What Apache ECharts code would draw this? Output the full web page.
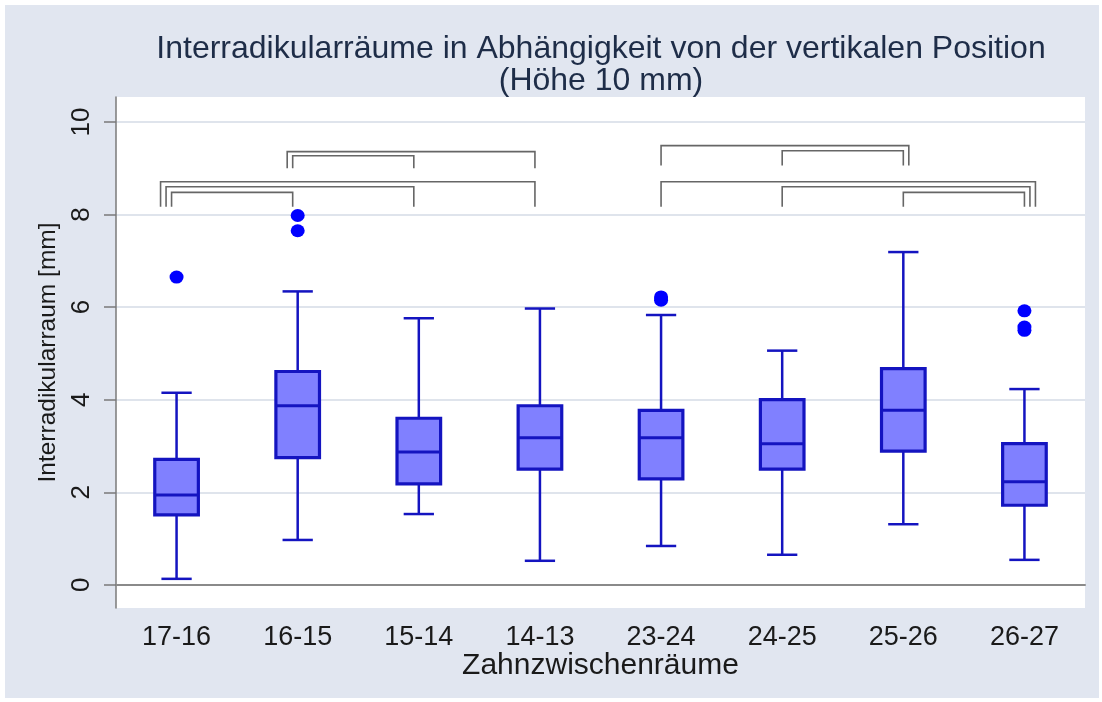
<!DOCTYPE html>
<html><head><meta charset="utf-8">
<script src="https://cdn.jsdelivr.net/npm/echarts@6/dist/echarts.min.js"></script>
<style>html,body{margin:0;padding:0;background:#fff}#c{width:1102px;height:702px}</style>
</head><body><div id="c"></div>
<script>
const categories = ['17-16','16-15','15-14','14-13','23-24','24-25','25-26','26-27'];
const lowWhisker  = [0.13, 0.97, 1.53, 0.52, 0.84, 0.65, 1.31, 0.54];
const q1          = [1.51, 2.75, 2.18, 2.50, 2.29, 2.50, 2.89, 1.72];
const median      = [1.94, 3.87, 2.87, 3.18, 3.18, 3.05, 3.77, 2.23];
const q3          = [2.71, 4.61, 3.60, 3.87, 3.77, 4.00, 4.67, 3.05];
const highWhisker = [4.15, 6.34, 5.76, 5.97, 5.83, 5.06, 7.19, 4.23];
const outlierCat  = [0, 1, 1, 4, 4, 7, 7, 7];
const outlierVal  = [6.65, 7.98, 7.65, 6.22, 6.15, 5.92, 5.57, 5.50];
const yTicks = [0, 2, 4, 6, 8, 10];
const titleLines = ['Interradikularräume in Abhängigkeit von der vertikalen Position', '(Höhe 10 mm)'];
// significance brackets: [from category, to category, top value, leg end value]
const brackets = [
  [0, 3, 8.71, 8.17], [0, 2, 8.60, 8.17], [0, 1, 8.48, 8.17],
  [1, 3, 9.36, 9.00], [1, 2, 9.27, 9.00],
  [4, 6, 9.49, 9.06], [5, 6, 9.38, 9.06],
  [4, 7, 8.71, 8.17], [5, 7, 8.60, 8.17], [6, 7, 8.48, 8.17]
];

const LINE = '#1414c0';
const FONT = '"Liberation Sans", Arial, sans-serif';

const boxData = categories.map((c, i) => [i, lowWhisker[i], q1[i], median[i], q3[i], highWhisker[i]]);
const outlierData = outlierCat.map((c, i) => [c, outlierVal[i]]);

// leg spreading for nested brackets sharing an endpoint
const SPREAD = 5.5;
const legOffsets = brackets.map((b) => {
  const span = Math.abs(b[1] - b[0]);
  const sameStart = brackets.filter(o => o[0] === b[0] && o[3] === b[3] && Math.abs(o[1] - o[0]) < span).length;
  const sameEnd = brackets.filter(o => o[1] === b[1] && o[3] === b[3] && Math.abs(o[1] - o[0]) < span).length;
  const base = b[0] < 4 ? -5 : 0;
  return [base - sameStart * SPREAD, (b[1] < 4 ? -5 : 0) + sameEnd * SPREAD];
});
const bracketData = brackets.map((b, i) => [b[0], b[1], b[2], b[3], i]);

const chart = echarts.init(document.getElementById('c'), null, {renderer: 'canvas'});
chart.setOption({
  backgroundColor: '#ffffff',
  animation: false,
  graphic: [{
    type: 'rect', z: -10, silent: true,
    shape: {x: 5, y: 5, width: 1094, height: 693},
    style: {fill: '#e1e6f0'}
  }, {
    type: 'text', z: 10, silent: true, x: 601, y: 33,
    style: {text: titleLines.join('\n'), textAlign: 'center', textVerticalAlign: 'top',
      font: 'normal 32px ' + FONT, lineHeight: 32, fill: '#1e2d48'}
  }],
  grid: {left: 116, right: 17, top: 97, bottom: 94, show: true, backgroundColor: '#ffffff', borderWidth: 0},
  xAxis: {
    type: 'category', data: categories,
    axisTick: {show: false},
    axisLine: {show: true, lineStyle: {color: '#8a8a8a', width: 2}},
    axisLabel: {fontFamily: FONT, fontSize: 27, color: '#1a1a1a', margin: 16},
    name: 'Zahnzwischenräume', nameLocation: 'middle', nameGap: 43, nameMoveOverlap: false,
    nameTextStyle: {fontFamily: FONT, fontSize: 30, color: '#1a1a1a'},
    splitLine: {show: false}
  },
  yAxis: {
    type: 'value', min: -0.5, max: 10.54,
    axisLine: {show: true, lineStyle: {color: '#7a7a7a', width: 1.5}},
    axisTick: {show: true, customValues: yTicks, length: 12, lineStyle: {color: '#7a7a7a', width: 1.5}},
    axisLabel: {customValues: yTicks, rotate: 90, fontFamily: FONT, fontSize: 26, color: '#1a1a1a', margin: 21},
    splitLine: {show: true, lineStyle: {color: '#dfe4ec', width: 2}},
    name: 'Interradikularraum [mm]', nameLocation: 'middle', nameRotate: 90, nameGap: 51,
    nameTextStyle: {fontFamily: FONT, fontSize: 24.5, color: '#1a1a1a'}
  },
  series: [
    {
      type: 'custom', name: 'box', data: boxData, z: 3,
      encode: {x: 0, y: [1, 2, 3, 4, 5]},
      renderItem: function (params, api) {
        const idx = api.value(0);
        const x = api.coord([idx, 0])[0];
        const band = api.size([1, 0])[0];
        const bw = band * 0.36, cw = band * 0.25;
        const yl = api.coord([idx, api.value(1)])[1];
        const y1 = api.coord([idx, api.value(2)])[1];
        const ym = api.coord([idx, api.value(3)])[1];
        const y3 = api.coord([idx, api.value(4)])[1];
        const yh = api.coord([idx, api.value(5)])[1];
        const ls = {stroke: LINE, lineWidth: 2.5, fill: null};
        return {type: 'group', children: [
          {type: 'line', shape: {x1: x, y1: yl, x2: x, y2: y1}, style: ls},
          {type: 'line', shape: {x1: x, y1: y3, x2: x, y2: yh}, style: ls},
          {type: 'line', shape: {x1: x - cw / 2, y1: yl, x2: x + cw / 2, y2: yl}, style: ls},
          {type: 'line', shape: {x1: x - cw / 2, y1: yh, x2: x + cw / 2, y2: yh}, style: ls},
          {type: 'rect', shape: {x: x - bw / 2, y: y3, width: bw, height: y1 - y3},
            style: {fill: '#8080ff', stroke: LINE, lineWidth: 3.2}},
          {type: 'line', shape: {x1: x - bw / 2, y1: ym, x2: x + bw / 2, y2: ym}, style: {stroke: LINE, lineWidth: 3}}
        ]};
      }
    },
    {
      type: 'scatter', name: 'outliers', data: outlierData, z: 4,
      symbol: 'circle', symbolSize: [14, 13],
      itemStyle: {color: '#0000ff', opacity: 1}
    },
    {
      type: 'custom', name: 'brackets', data: bracketData, z: 2,
      encode: {x: [0, 1], y: [2, 3]},
      renderItem: function (params, api) {
        const i = api.value(4);
        const a = api.value(0), b = api.value(1);
        const xa = api.coord([a, 0])[0] + legOffsets[i][0];
        const xb = api.coord([b, 0])[0] + legOffsets[i][1];
        const yt = api.coord([a, api.value(2)])[1];
        const yb = api.coord([a, api.value(3)])[1];
        return {type: 'polyline', shape: {points: [[xa, yb], [xa, yt], [xb, yt], [xb, yb]]},
          style: {stroke: '#666666', lineWidth: 1.6, fill: null}};
      }
    }
  ]
});
</script></body></html>
